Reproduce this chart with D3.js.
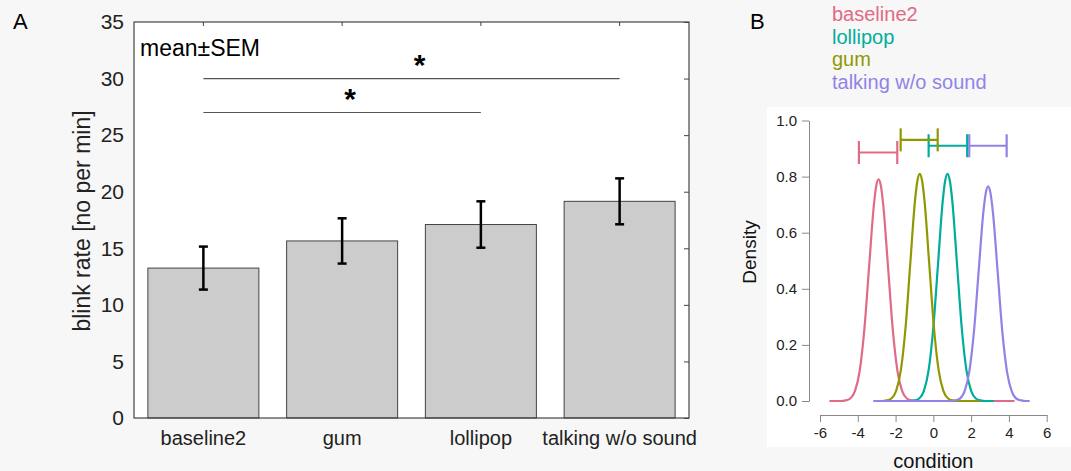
<!DOCTYPE html>
<html>
<head>
<meta charset="utf-8">
<script src="https://cdn.jsdelivr.net/npm/d3@7"></script>
<style>
  body { margin: 0; background: #f7f7f7; }
  svg { display: block; font-family: "Liberation Sans", Arial, sans-serif; }
</style>
</head>
<body>
<script>
// panel A data
const conditions = ["baseline2", "gum", "lollipop", "talking w/o sound"];
const blinkMean = [13.25, 15.65, 17.1, 19.15];
const blinkSem = [1.9, 2.0, 2.05, 2.03];
const blinkTicks = [0, 5, 10, 15, 20, 25, 30, 35];
const sigFrom = ["baseline2", "baseline2"];
const sigTo = ["talking w/o sound", "lollipop"];
const sigLevel = [30, 27];

// panel B data
const densityNames = ["baseline2", "lollipop", "gum", "talking w/o sound"];
const densityColors = ["#E16A86", "#00AD9A", "#909800", "#9183E6"];
const baselineDensity = [[-5.5, 0], [-4.9, 0], [-4.65, 0.002], [-4.4, 0.009], [-4.15, 0.035], [-3.9, 0.107], [-3.65, 0.257], [-3.4, 0.479], [-3.15, 0.697], [-3.025, 0.766], [-2.9, 0.79], [-2.775, 0.766], [-2.65, 0.697], [-2.4, 0.479], [-2.15, 0.257], [-1.9, 0.107], [-1.65, 0.035], [-1.4, 0.009], [-1.15, 0.002], [-0.9, 0], [4.3, 0]];
const lollipopDensity = [[-2.5, 0], [-1.25, 0], [-1.0, 0.002], [-0.75, 0.009], [-0.5, 0.036], [-0.25, 0.110], [0.0, 0.263], [0.25, 0.491], [0.5, 0.715], [0.625, 0.785], [0.75, 0.81], [0.875, 0.785], [1.0, 0.715], [1.25, 0.491], [1.5, 0.263], [1.75, 0.110], [2.0, 0.036], [2.25, 0.009], [2.5, 0.002], [2.75, 0], [3.2, 0]];
const gumDensity = [[-3.1, 0], [-2.72, 0], [-2.47, 0.002], [-2.22, 0.009], [-1.97, 0.036], [-1.72, 0.110], [-1.47, 0.263], [-1.22, 0.491], [-0.97, 0.715], [-0.845, 0.785], [-0.72, 0.81], [-0.595, 0.785], [-0.47, 0.715], [-0.22, 0.491], [0.03, 0.263], [0.28, 0.110], [0.53, 0.036], [0.78, 0.009], [1.03, 0.002], [1.28, 0], [2.4, 0]];
const talkingDensity = [[-3.18, 0], [0.9, 0], [1.15, 0.002], [1.4, 0.008], [1.65, 0.034], [1.9, 0.104], [2.15, 0.248], [2.4, 0.464], [2.65, 0.675], [2.775, 0.741], [2.9, 0.765], [3.025, 0.741], [3.15, 0.675], [3.4, 0.464], [3.65, 0.248], [3.9, 0.104], [4.15, 0.034], [4.4, 0.008], [4.65, 0.002], [4.9, 0], [5.1, 0]];
const densitySeries = [baselineDensity, lollipopDensity, gumDensity, talkingDensity];
const hdiLow = [-3.94, -0.25, -1.73, 1.90];
const hdiHigh = [-1.91, 1.79, 0.23, 3.88];
const hdiLevel = [0.886, 0.91, 0.931, 0.91];
const densityTicks = [0, 0.2, 0.4, 0.6, 0.8, 1.0];
const conditionTicks = [-6, -4, -2, 0, 2, 4, 6];

const svg = d3.select("body").append("svg")
  .attr("width", 1071)
  .attr("height", 471);

// ---------- panel A ----------
const boxA = { left: 134, right: 689, top: 22, bottom: 418 };

const x = d3.scaleBand()
  .domain(conditions)
  .range([boxA.left, boxA.right])
  .paddingInner(0.2)
  .paddingOuter(0.1);

const y = d3.scaleLinear()
  .domain([0, 35])
  .range([boxA.bottom, boxA.top]);

svg.append("rect")
  .attr("x", boxA.left)
  .attr("y", boxA.top)
  .attr("width", boxA.right - boxA.left)
  .attr("height", boxA.bottom - boxA.top)
  .attr("fill", "#fff");

// bars
svg.selectAll(".bar")
  .data(conditions)
  .enter().append("rect")
  .attr("class", "bar")
  .attr("x", d => x(d))
  .attr("y", (d, i) => y(blinkMean[i]))
  .attr("width", x.bandwidth())
  .attr("height", (d, i) => y(0) - y(blinkMean[i]))
  .attr("fill", "#cccccc")
  .attr("stroke", "#444")
  .attr("stroke-width", 1);

// error bars
const err = svg.selectAll(".err")
  .data(conditions)
  .enter().append("g")
  .attr("class", "err")
  .attr("stroke", "#000")
  .attr("stroke-width", 2.5);

err.append("line")
  .attr("x1", d => x(d) + x.bandwidth() / 2)
  .attr("x2", d => x(d) + x.bandwidth() / 2)
  .attr("y1", (d, i) => y(blinkMean[i] - blinkSem[i]))
  .attr("y2", (d, i) => y(blinkMean[i] + blinkSem[i]));

[-1, 1].forEach(s => {
  err.append("line")
    .attr("x1", d => x(d) + x.bandwidth() / 2 - 4.5)
    .attr("x2", d => x(d) + x.bandwidth() / 2 + 4.5)
    .attr("y1", (d, i) => y(blinkMean[i] + s * blinkSem[i]))
    .attr("y2", (d, i) => y(blinkMean[i] + s * blinkSem[i]));
});

// frame
svg.append("rect")
  .attr("x", boxA.left)
  .attr("y", boxA.top)
  .attr("width", boxA.right - boxA.left)
  .attr("height", boxA.bottom - boxA.top)
  .attr("fill", "none")
  .attr("stroke", "#444")
  .attr("stroke-width", 1.2);

// y axis labels
const yAxis = svg.append("g")
  .attr("transform", "translate(" + boxA.left + ",0)")
  .call(d3.axisLeft(y).tickValues(blinkTicks).tickSize(0).tickPadding(10));
yAxis.select(".domain").remove();
yAxis.selectAll("text").attr("font-size", 21).attr("fill", "#222").style("font-family", "inherit");

// inner ticks on the right side
const rightTicks = svg.append("g")
  .attr("transform", "translate(" + boxA.right + ",0)")
  .call(d3.axisLeft(y).tickValues(blinkTicks).tickSize(5).tickFormat(""));
rightTicks.select(".domain").remove();
rightTicks.selectAll("line").attr("stroke", "#444");

// inner ticks on the top
const topTicks = svg.append("g")
  .attr("transform", "translate(0," + boxA.top + ")")
  .call(d3.axisBottom(x).tickSize(4).tickFormat(""));
topTicks.select(".domain").remove();
topTicks.selectAll("line").attr("stroke", "#444");

// x axis labels
const xAxis = svg.append("g")
  .attr("transform", "translate(0," + boxA.bottom + ")")
  .call(d3.axisBottom(x).tickSize(0).tickPadding(13));
xAxis.select(".domain").remove();
xAxis.selectAll("text").attr("font-size", 20).attr("fill", "#222").style("font-family", "inherit");

// y axis title
svg.append("text")
  .attr("transform", "translate(90,221) rotate(-90)")
  .attr("text-anchor", "middle")
  .attr("font-size", 23)
  .attr("fill", "#222")
  .text("blink rate [no per min]");

svg.append("text")
  .attr("x", 140)
  .attr("y", 56)
  .attr("font-size", 23)
  .attr("fill", "#000")
  .text("mean±SEM");

// significance lines
sigFrom.forEach((from, i) => {
  const x1 = x(from) + x.bandwidth() / 2;
  const x2 = x(sigTo[i]) + x.bandwidth() / 2;
  svg.append("line")
    .attr("x1", x1).attr("x2", x2)
    .attr("y1", y(sigLevel[i])).attr("y2", y(sigLevel[i]))
    .attr("stroke", "#555")
    .attr("stroke-width", 1.2);
  svg.append("text")
    .attr("x", (x1 + x2) / 2 + 8)
    .attr("y", y(sigLevel[i]) - 3.5)
    .attr("text-anchor", "middle")
    .attr("font-size", 30)
    .attr("font-weight", "bold")
    .text("*");
});

svg.append("text")
  .attr("x", 13)
  .attr("y", 29)
  .attr("font-size", 22)
  .text("A");

// ---------- panel B ----------
svg.append("rect")
  .attr("x", 767)
  .attr("y", 107)
  .attr("width", 304)
  .attr("height", 340)
  .attr("fill", "#fff");

const xd = d3.scaleLinear()
  .domain([-6, 6])
  .range([820, 1046.7]);

const yd = d3.scaleLinear()
  .domain([0, 1])
  .range([401, 120.5]);

const dAxisY = svg.append("g")
  .attr("transform", "translate(809,0)")
  .call(d3.axisLeft(yd).tickValues(densityTicks).tickSize(7).tickSizeOuter(0).tickPadding(5)
    .tickFormat(d3.format(".1f")));
dAxisY.select(".domain").attr("stroke", "#888");
dAxisY.selectAll("line").attr("stroke", "#888");
dAxisY.selectAll("text").attr("font-size", 15).attr("fill", "#222").style("font-family", "inherit");

const dAxisX = svg.append("g")
  .attr("transform", "translate(0,415)")
  .call(d3.axisBottom(xd).tickValues(conditionTicks).tickSize(7).tickSizeOuter(0).tickPadding(5)
    .tickFormat(d => String(d)));
dAxisX.select(".domain").attr("stroke", "#888");
dAxisX.selectAll("line").attr("stroke", "#888");
dAxisX.selectAll("text").attr("font-size", 15).attr("fill", "#222").style("font-family", "inherit");

// density curves
const densityLine = d3.line()
  .x(d => xd(d[0]))
  .y(d => yd(d[1]))
  .curve(d3.curveMonotoneX);

svg.selectAll(".density")
  .data(densitySeries)
  .enter().append("path")
  .attr("class", "density")
  .attr("d", densityLine)
  .attr("fill", "none")
  .attr("stroke", (d, i) => densityColors[i])
  .attr("stroke-width", 2.2);

// interval bars
const hdi = svg.selectAll(".hdi")
  .data(densityNames)
  .enter().append("g")
  .attr("class", "hdi")
  .attr("stroke", (d, i) => densityColors[i])
  .attr("stroke-width", 2.2);

hdi.append("line")
  .attr("x1", (d, i) => xd(hdiLow[i]))
  .attr("x2", (d, i) => xd(hdiHigh[i]))
  .attr("y1", (d, i) => yd(hdiLevel[i]))
  .attr("y2", (d, i) => yd(hdiLevel[i]));

[hdiLow, hdiHigh].forEach(ends => {
  hdi.append("line")
    .attr("x1", (d, i) => xd(ends[i]))
    .attr("x2", (d, i) => xd(ends[i]))
    .attr("y1", (d, i) => yd(hdiLevel[i]) - 11.5)
    .attr("y2", (d, i) => yd(hdiLevel[i]) + 11.5);
});

// legend
svg.selectAll(".legend")
  .data(densityNames)
  .enter().append("text")
  .attr("class", "legend")
  .attr("x", 832)
  .attr("y", (d, i) => 21 + i * 22.7)
  .attr("font-size", 20)
  .attr("fill", (d, i) => densityColors[i])
  .text(d => d);

svg.append("text")
  .attr("transform", "translate(756,252) rotate(-90)")
  .attr("text-anchor", "middle")
  .attr("font-size", 19)
  .attr("fill", "#111")
  .text("Density");

svg.append("text")
  .attr("x", xd(0))
  .attr("y", 468)
  .attr("text-anchor", "middle")
  .attr("font-size", 20)
  .attr("fill", "#111")
  .text("condition");

svg.append("text")
  .attr("x", 750)
  .attr("y", 29)
  .attr("font-size", 22)
  .text("B");
</script>
</body>
</html>
